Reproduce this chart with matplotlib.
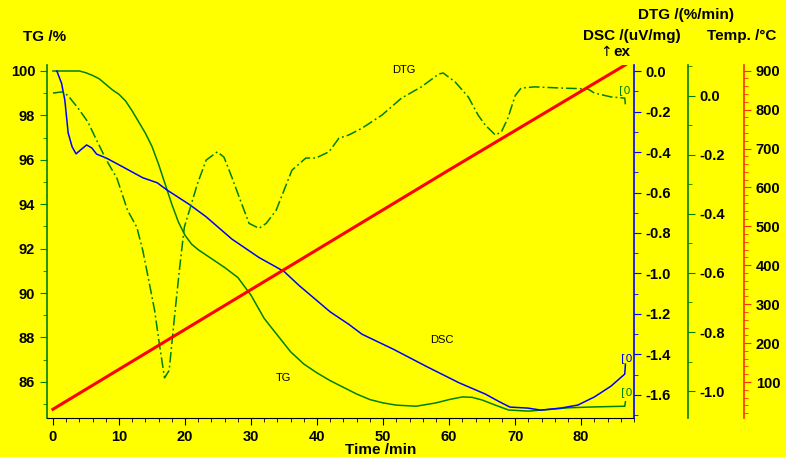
import numpy as np
import matplotlib.pyplot as plt
from matplotlib.ticker import MultipleLocator

plt.rcParams['font.family'] = ['Liberation Sans', 'DejaVu Sans']

# TG, % от исходной массы
tg_time = [0, 4, 5, 6, 7, 8, 9, 10, 11, 12, 13, 14, 15, 16, 17, 18, 19, 20, 21, 22,
           24, 26, 28, 30, 32, 34, 36, 38, 40, 42, 44, 46, 48, 50, 52, 55, 58, 60,
           62, 63.5, 65, 67, 69, 72, 75, 78, 82, 86.6, 86.7]
tg_mass = [100.0, 100.0, 99.92, 99.8, 99.65, 99.4, 99.15, 98.95, 98.65, 98.2, 97.7,
           97.2, 96.6, 95.8, 94.9, 94.0, 93.2, 92.6, 92.2, 91.95, 91.55, 91.15, 90.7,
           89.9, 88.85, 88.1, 87.35, 86.8, 86.4, 86.05, 85.75, 85.45, 85.2, 85.05,
           84.95, 84.9, 85.05, 85.2, 85.32, 85.3, 85.18, 84.95, 84.73, 84.68, 84.75,
           84.83, 84.87, 84.9, 85.1]

# DSC, uV/mg
dsc_time = [0.6, 1.3, 1.8, 2.3, 2.9, 3.5, 4.1, 5.1, 5.9, 6.6, 8.1, 10.1, 13.6, 15.8,
            17.2, 20.7, 23.2, 27.1, 31.2, 35.0, 37.3, 40.3, 42.0, 44.8, 46.8, 51.6,
            56.6, 61.5, 65.5, 67.4, 69.2, 71.9, 73.9, 76.9, 79.5, 82.0, 84.5, 86.6, 86.7]
dsc_value = [0.0, -0.06, -0.143, -0.305, -0.374, -0.409, -0.392, -0.365, -0.38, -0.41,
             -0.43, -0.465, -0.527, -0.552, -0.586, -0.66, -0.72, -0.83, -0.921, -0.99,
             -1.06, -1.143, -1.19, -1.251, -1.30, -1.375, -1.46, -1.54, -1.596, -1.63,
             -1.66, -1.665, -1.675, -1.665, -1.65, -1.61, -1.557, -1.497, -1.448]

# DTG, %/min
dtg_time = [0, 1.4, 2.3, 3.8, 5.3, 6.6, 8.1, 9.7, 11.3, 12.7, 13.6, 14.6, 15.4, 16.1,
            16.9, 17.6, 18.4, 19.2, 19.9, 21.0, 21.9, 23.2, 24.9, 25.9, 27.1, 28.2,
            29.7, 31.2, 32.3, 33.8, 35.0, 36.2, 38.3, 39.8, 41.8, 43.3, 44.8, 46.8,
            49.8, 52.8, 55.8, 58.4, 59.1, 60.9, 62.9, 64.4, 65.5, 67.0, 67.9, 68.9,
            70.0, 70.9, 73.0, 76.9, 81.0, 82.0, 84.5, 86.6, 86.7]
dtg_value = [0.009, 0.013, 0.0, -0.042, -0.089, -0.15, -0.218, -0.28, -0.388, -0.445,
             -0.523, -0.635, -0.727, -0.838, -0.955, -0.93, -0.75, -0.58, -0.445,
             -0.364, -0.297, -0.218, -0.19, -0.208, -0.276, -0.343, -0.432, -0.449,
             -0.432, -0.388, -0.32, -0.252, -0.211, -0.211, -0.19, -0.144, -0.133,
             -0.11, -0.066, -0.008, 0.03, 0.073, 0.077, 0.047, -0.004, -0.066, -0.10,
             -0.133, -0.123, -0.076, 0.0, 0.026, 0.03, 0.026, 0.023, 0.009, -0.004,
             -0.008, -0.03]

# Температура, °C
temp_time = [0, 20, 40, 60, 86.7]
temp_value = [30, 235, 440, 645, 915]

bg = '#ffff00'
green = '#008000'
W, H = 786, 457

fig = plt.figure(figsize=(W / 100, H / 100), dpi=100, facecolor=bg)
ax = fig.add_axes([47 / W, 1 - 418 / H, (634 - 47) / W, (418 - 65) / H])
ax.set_facecolor(bg)

# TG
ax.plot(tg_time, tg_mass, color=green, lw=1.1)
ax.set_xlim(-0.9, 88.0)
ax.set_ylim(84.37, 100.27)
ax.xaxis.set_major_locator(MultipleLocator(10))
ax.xaxis.set_minor_locator(MultipleLocator(2))
ax.yaxis.set_major_locator(MultipleLocator(2))
ax.yaxis.set_minor_locator(MultipleLocator(1))
for s in ['top', 'right']:
    ax.spines[s].set_visible(False)
ax.spines['left'].set_color(green)
ax.spines['left'].set_linewidth(1.2)
ax.spines['bottom'].set_color('black')
ax.tick_params(axis='y', which='both', colors=green, labelcolor='black', labelsize=10.5)
ax.tick_params(axis='y', which='major', length=5)
ax.tick_params(axis='y', which='minor', length=3)
ax.tick_params(axis='x', which='major', length=5, labelsize=10.5)
ax.tick_params(axis='x', which='minor', length=3)
for lab in ax.get_xticklabels() + ax.get_yticklabels():
    lab.set_fontweight('bold')


def side_axis(pos, color, lo, hi, major, minor):
    a = ax.twinx()
    a.set_ylim(lo, hi)
    for s in ['top', 'left', 'bottom']:
        a.spines[s].set_visible(False)
    a.spines['right'].set_position(('axes', pos))
    a.spines['right'].set_color(color)
    a.spines['right'].set_linewidth(1.2)
    a.yaxis.set_major_locator(MultipleLocator(major))
    a.yaxis.set_minor_locator(MultipleLocator(minor))
    a.tick_params(axis='y', which='both', colors=color, labelcolor='black', labelsize=10.5)
    a.tick_params(axis='y', which='major', length=5)
    a.tick_params(axis='y', which='minor', length=3)
    return a


# DSC
ax_dsc = side_axis(1.0, 'blue', -1.714, 0.03, 0.2, 0.1)
ax_dsc.plot(dsc_time, dsc_value, color='blue', lw=1.1)
ax_dsc.yaxis.set_major_formatter(lambda v, p: f'{v:.1f}'.replace('-0.0', '0.0'))

# DTG
ax_dtg = side_axis((688 - 47) / (634 - 47), green, -1.091, 0.104, 0.2, 0.1)
ax_dtg.plot(dtg_time, dtg_value, color=green, lw=1.1, dashes=(7, 2, 1.2, 2))
ax_dtg.yaxis.set_major_formatter(lambda v, p: f'{v:.1f}'.replace('-0.0', '0.0'))

# Температура
ax_t = side_axis((744 - 47) / (634 - 47), '#ff3000', 7.5, 914.6, 100, 20)
ax_t.plot(temp_time, temp_value, color='red', lw=2.2)

for a in (ax_dsc, ax_dtg, ax_t):
    for lab in a.get_yticklabels():
        lab.set_fontweight('bold')


def px_text(x, y, s, **kw):
    fig.text(x / W, 1 - y / H, s, va='center', **kw)


# Подписи осей
px_text(23, 37, 'TG /%', fontsize=11, fontweight='bold')
px_text(638, 15, 'DTG /(%/min)', fontsize=11, fontweight='bold')
px_text(583, 36, 'DSC /(uV/mg)', fontsize=11, fontweight='bold')
px_text(707, 36, 'Temp. /°C', fontsize=11, fontweight='bold')
px_text(600, 52, '↑', fontsize=10, family=['DejaVu Sans'])
px_text(613, 52, 'ex', fontsize=11, fontweight='bold')
px_text(381, 450, 'Time /min', fontsize=11, fontweight='bold', ha='center')

# Подписи кривых
px_text(392, 70, 'DTG', fontsize=8)
px_text(430, 340, 'DSC', fontsize=8)
px_text(276, 378, 'TG', fontsize=8)
px_text(621, 358, '[0', fontsize=8, color='blue', family=['DejaVu Sans'])
px_text(621, 392, '[0', fontsize=8, color=green, family=['DejaVu Sans'])
px_text(619, 90, '[0', fontsize=8, color=green, family=['DejaVu Sans'])

fig.savefig('out.png', dpi=100, facecolor=bg)
